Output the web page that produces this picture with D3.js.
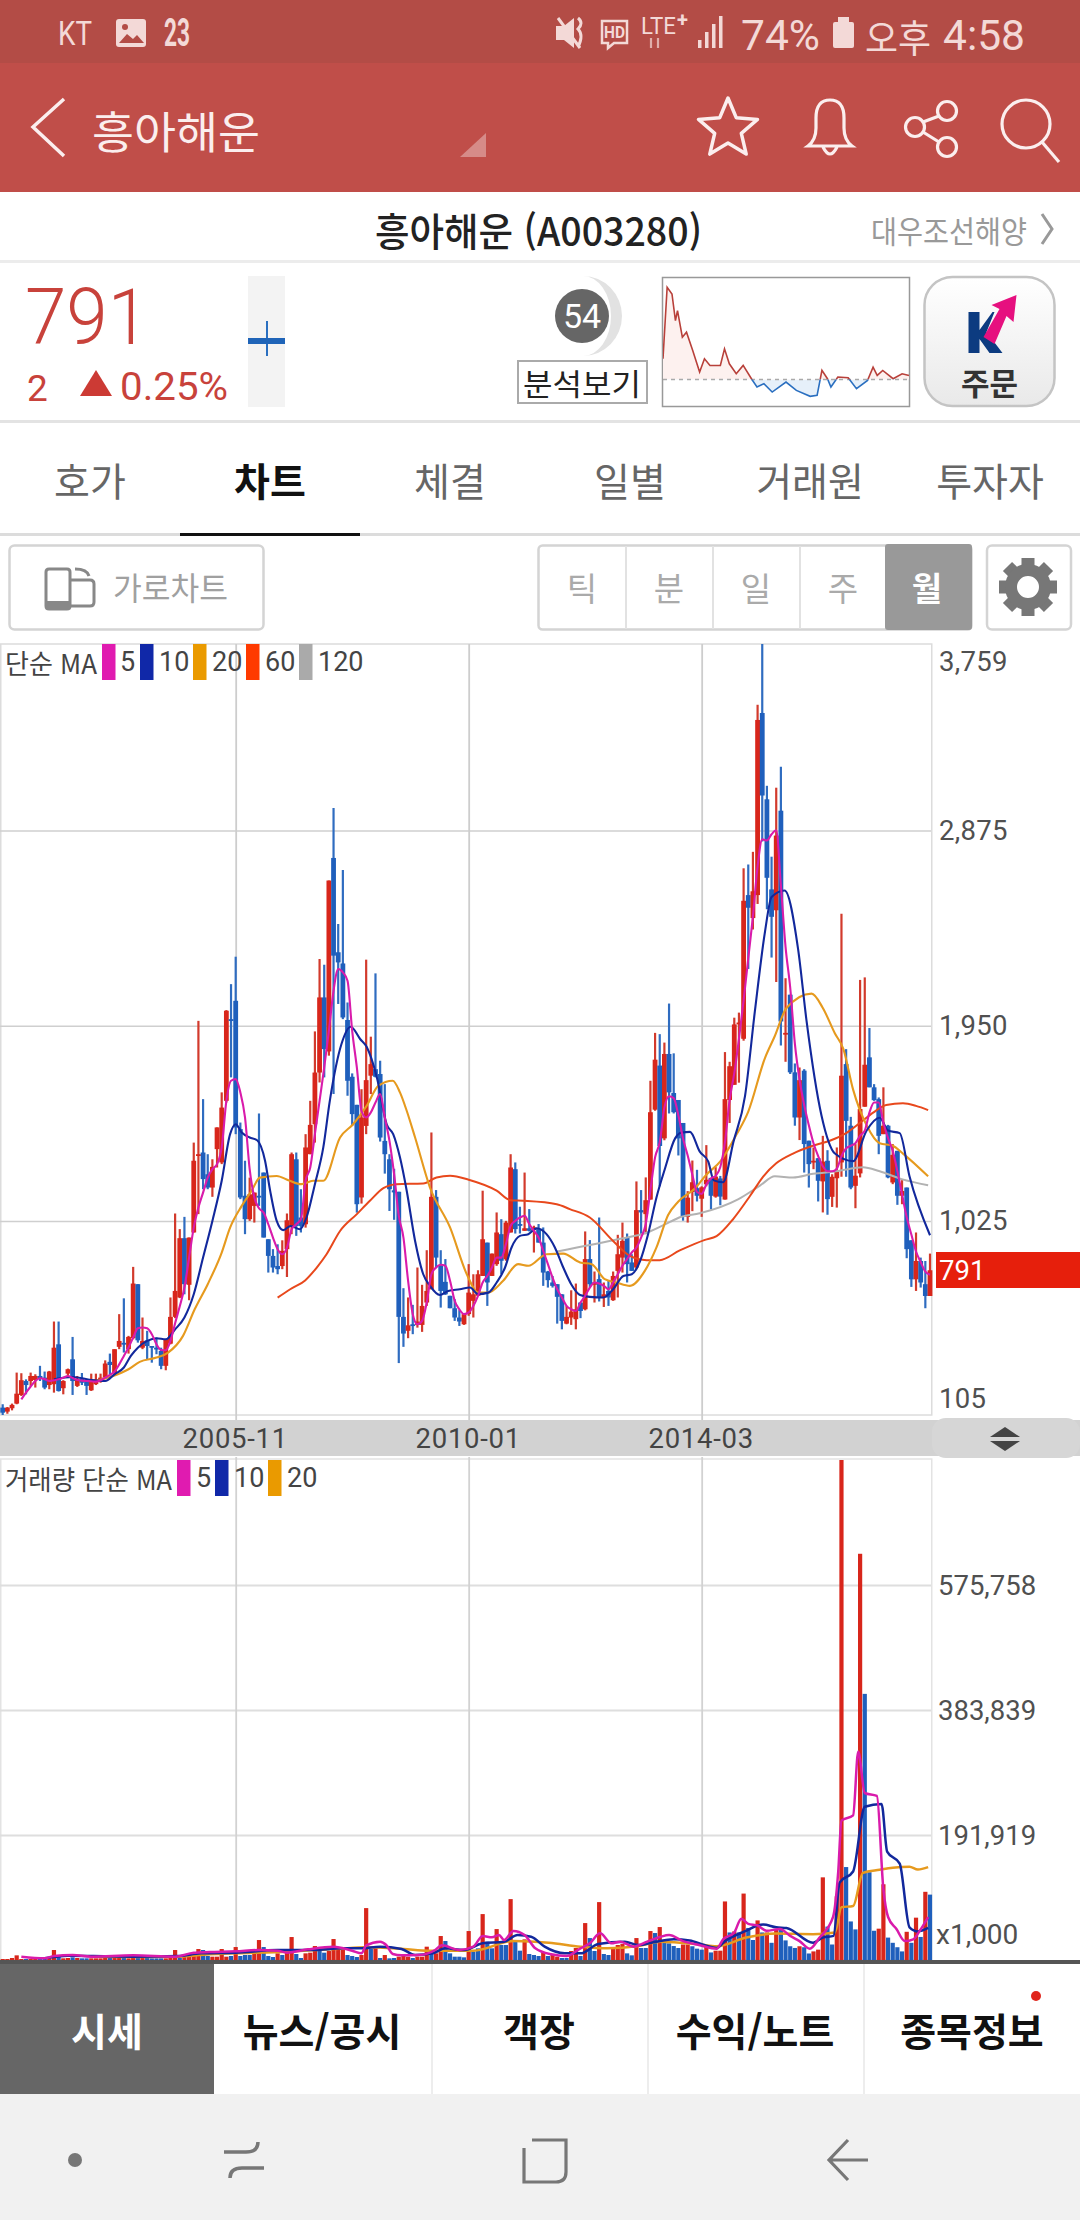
<!DOCTYPE html>
<html lang="ko"><head><meta charset="utf-8">
<style>html,body{margin:0;padding:0;background:#fff}svg{display:block}
.axis path.domain{display:none}</style>
<script src="https://cdn.jsdelivr.net/npm/d3@7/dist/d3.min.js"></script>
</head><body><div id="c"></div>
<script>
// ---------- price candles (monthly) ----------
const open=[140,121,137,159,200,266,266,271,290,282,
247,251,440,232,301,369,243,279,270,222,
251,266,282,357,301,428,447,417,469,725,
424,459,432,424,409,338,443,570,662,943,
722,970,1336,1349,1246,1183,1365,1302,1594,1981,
2068,1460,1144,1033,1096,1144,1254,938,859,811,
811,891,1001,1317,1041,1009,1341,1483,1728,2084,
1828,2745,2298,2245,1977,1708,1575,1136,1475,1713,
1744,1721,1404,1317,1170,1163,570,504,535,532,
532,638,701,1139,812,736,670,611,567,535,
583,646,670,764,922,764,820,962,843,970,
1270,1010,978,990,981,986,922,785,733,725,
677,538,567,559,638,606,844,722,749,662,
693,649,788,851,946,828,804,1076,1057,1126,
1552,1761,1416,1816,1631,1598,1489,1044,1162,1180,
1130,1198,1229,1140,1226,1126,1598,1670,1957,1888,
2569,2460,2569,3432,3023,2596,2497,2969,1912,2097,
1729,1515,1737,1405,1305,1322,1212,1310,1139,1227,
1302,1768,1476,1191,1250,1566,1800,1658,1602,1436,
1476,1207,1357,1144,1183,933,748,835,725,669];
const close=[116,140,153,206,270,247,290,290,279,235,
311,424,219,266,322,266,274,258,243,274,
274,282,349,342,417,456,440,475,728,459,
456,432,428,417,338,464,570,693,943,725,
946,1310,1341,1223,1183,1281,1468,1562,2021,1977,
1468,1136,1033,1151,1159,1136,946,859,804,796,
883,1028,1341,1001,1001,1373,1480,1728,2084,1839,
2638,2282,2250,1989,1689,1531,1104,1515,1692,1768,
1708,1420,1341,1175,1160,570,491,530,527,548,
622,693,1139,851,693,677,611,567,548,583,
685,677,772,938,733,870,970,836,1017,1278,
986,1002,990,978,994,922,780,744,717,665,
551,570,595,606,598,844,725,733,662,677,
662,764,867,930,820,788,1076,1065,1123,1540,
1789,1380,1816,1634,1540,1416,1044,1135,1208,1144,
1184,1220,1144,1235,1140,1602,1758,1956,1965,2542,
2509,2587,3399,3041,2651,2466,2851,1970,1916,1729,
1515,1692,1389,1294,1310,1215,1306,1128,1234,1262,
1713,1499,1183,1239,1555,1765,1658,1597,1428,1476,
1231,1338,1144,1167,891,748,835,733,669,791];
const high=[156,143,159,306,303,274,306,298,338,311,
314,548,548,270,325,475,290,304,274,301,
301,301,364,396,417,583,658,480,807,725,
567,504,432,472,424,464,662,1060,986,1044,
946,1396,1973,1602,1341,1317,1468,1634,2024,2147,
2277,1491,1310,1230,1159,1534,1254,938,891,914,
933,1060,1349,1349,1175,1436,1594,1923,2266,2239,
2638,2982,2432,2688,2060,1724,1575,1649,2263,1898,
2198,1784,1673,1341,1272,1163,706,662,627,804,
722,886,1444,1171,886,844,670,654,602,583,
820,772,791,1168,922,870,1065,1033,1025,1341,
1302,1092,1254,1081,1002,1010,994,788,764,725,
677,622,696,728,638,975,934,785,1041,733,
741,785,959,1017,965,867,1212,1171,1231,1689,
1916,1910,1870,2055,1819,1598,1489,1166,1311,1267,
1189,1384,1229,1280,1238,1825,1779,1988,2012,2696,
2714,2774,3471,3759,3087,2751,3078,3177,2175,2097,
1771,1752,1744,1405,1373,1322,1428,1360,1246,1373,
2481,1839,1518,1389,2167,2179,1939,1673,1610,1658,
1480,1389,1357,1218,1183,933,970,851,835,870];
const low=[105,111,127,156,195,203,243,235,266,227,
227,211,216,203,282,200,238,247,200,219,
247,258,279,298,298,417,401,396,464,448,
417,369,353,393,322,317,440,564,659,677,
649,970,1057,1175,1175,1139,1278,1294,1586,1705,
1436,1128,962,1025,1017,1096,946,780,780,772,
796,759,962,954,970,993,1341,1396,1681,1705,
1808,1626,2053,1981,1618,1475,1064,1107,1436,1626,
1705,1401,1249,1072,1030,351,428,469,488,519,
499,622,701,801,614,674,611,551,527,532,
575,567,670,764,622,764,812,772,836,970,
965,965,978,975,875,922,717,709,709,538,
511,535,532,511,564,601,709,638,643,617,
622,646,662,780,733,788,796,962,962,1126,
1547,1189,1407,1534,1534,1335,1026,1017,1071,1117,
1044,1189,1080,1135,1099,1126,1489,1670,1680,1879,
2219,2406,2527,2823,2502,2273,2157,1856,1779,1721,
1476,1408,1254,1183,1270,1117,1065,1054,1091,1088,
1234,1234,1175,1085,1231,1566,1658,1594,1341,1436,
1227,1199,1101,1104,848,712,693,709,611,669];

// ---------- price moving averages (month index, value) ----------
const ma5Start=4;
const ma5=[179,211,240,266,279,275,
266,270,274,282,290,280,271,268,266,265,
263,270,282,295,311,345,385,425,472,516,
520,516,488,440,413,412,456,540,620,709,
851,993,1088,1159,1230,1270,1294,1373,1594,1689,
1697,1634,1515,1270,1136,1085,1064,1009,946,891,
867,898,985,1009,1033,1215,1278,1436,1594,1752,
1926,2116,2219,2203,2163,1926,1752,1547,1515,1539,
1586,1626,1515,1404,1246,1050,946,741,583,535,
551,638,772,804,817,812,741,646,606,583,
591,622,670,733,764,804,851,851,915,1002,
1025,1041,1049,1010,978,946,883,820,756,701,
662,622,606,598,638,670,709,733,728,717,
701,733,772,812,844,875,899,946,1010,1170,
1326,1398,1562,1616,1607,1525,1416,1335,1244,1162,
1153,1198,1226,1238,1280,1398,1598,1725,1888,2070,
2270,2469,2705,2833,2828,2857,2876,2615,2324,2131,
1865,1695,1574,1478,1393,1332,1284,1260,1260,1272,
1332,1369,1381,1393,1429,1453,1538,1586,1586,1490,
1417,1357,1260,1151,1042,960,880,830,785,770];
const ma10Idx=[11,15,19,22,24,26,27.5,29,31,33,35,37,39,41,43,45,47,48.8,50,51.3,53,54.6,56.3,57.4,58.8,60.2,61.8,63.8,65.2,67,68.8,70.2,72.7,74.7,76.7,78.1,80.3,82.4,83.8,85.25,86.7,88.5,90.25,91.7,93.8,95.6,98.1,100.3,102,104.2,106,107.8,109.2,111,112.8,114.6,116.7,118.5,120.3,122,123.9,126,128.9,131,133.2,135,136.8,138.5,140.3,142.1,144.3,145.7,147.5,149.6,151.4,152.6,154.6,156.8,159.3,161.4,163.6,165,167.8,170.7,172.5,175.7,178.6,182.5,185.4,188.2,190,192.5,194.6,199];
const ma10=[274,285,271,266,298,330,385,424,456,469,464,511,567,677,851,1025,1215,1436,1483,1444,1420,1407,1310,1167,1025,981,1001,985,1041,1199,1373,1594,1863,1945,1887,1850,1705,1483,1436,1326,1168,930,772,717,674,693,701,709,678,685,733,804,899,954,962,990,962,899,804,725,674,665,662,701,764,772,836,962,1136,1271,1416,1444,1447,1353,1307,1217,1208,1398,1616,2015,2397,2560,2591,2312,1974,1526,1344,1308,1453,1514,1453,1441,1236,957];
const ma20Idx=[20,23.7,27,29.4,33,35.5,38.7,41.2,44,47,48.8,51.3,53.4,55.2,58.8,61.3,64.1,66.6,68.8,72.4,75.2,78.1,80.6,83.7,85.25,86.7,88.5,91.7,96,99.6,102,104.2,107.4,110.6,112.8,116.7,120.3,123.9,126.4,129.2,131.7,134.6,137.8,140.3,142.8,145,148.6,151,154,157.5,160,163.6,165.7,168.2,173.6,176,178.6,180.4,182.5,185.4,188.2,191,193.2,198.6];
const ma20=[266,290,322,357,377,401,480,606,725,875,993,1096,1167,1230,1238,1218,1199,1215,1215,1420,1483,1570,1665,1689,1634,1547,1420,1183,994,772,685,685,741,820,812,867,870,828,820,749,733,717,788,899,1053,1117,1180,1244,1307,1435,1543,1798,1901,2034,2102,2034,1913,1840,1647,1478,1393,1381,1344,1236];
const ma60Idx=[59,61.7,64.9,67.4,69.5,72.4,76,78.8,81.7,84.5,90.25,93.1,96,100,106,108.9,111.7,118.9,121.7,126,131,134.6,138.2,141,145.3,150.7,153.2,156.8,160.4,163.2,166,169.6,173.9,177.5,181,184,186.8,189.6,193.2,196,198.6];
const ma60=[661,701,743,804,867,977,1057,1120,1180,1199,1202,1231,1239,1220,1168,1123,1120,1104,1081,1041,930,859,839,839,885,935,953,1035,1144,1235,1298,1344,1381,1405,1441,1490,1538,1574,1582,1570,1550];
const ma120Idx=[119,132.5,138.2,143.2,145.3,149.6,157.8,162.5,165.7,169.6,173.9,178.9,184.6,188.2,192.9,198.6];
const ma120=[880,940,969,1020,1042,1061,1127,1192,1236,1231,1248,1260,1279,1260,1223,1194];

// ---------- volume (x1,000 shares) ----------
const volume=[1530,1530,3070,7150,1530,1530,1530,2040,2040,2555,
2555,15330,5110,2555,3070,4090,3070,2555,2555,2555,
2555,2555,3070,3070,3070,6640,3070,2555,6130,4090,
3070,3070,2555,2555,2555,2555,3070,15330,3070,4600,
6130,6130,16860,15330,6130,5110,5110,16860,5110,6130,
19900,6130,7670,7670,9200,30660,19900,6130,4600,10200,
7670,15330,35260,9200,3070,10200,11240,21460,15330,11240,
13800,32200,15330,15330,7670,6130,4600,7670,79700,16860,
17900,3070,7670,2555,3070,5110,7670,5110,3070,5110,
5110,20440,12800,10200,36800,29130,10200,5110,5110,4090,
44460,12800,17900,70500,28100,17900,47500,23000,23000,93500,
28100,14300,31700,9200,7670,6130,12260,6130,7670,5110,
3070,3070,13800,18400,6130,56700,33700,13800,88900,9200,
7670,17900,23000,24500,10200,7150,33700,18400,18400,44460,
41400,50600,29130,25550,21460,18400,23800,23800,21100,17400,
15900,21100,11600,14300,14300,89900,42300,43900,42300,102000,
49200,30700,60800,42300,42300,26400,47600,47600,30100,21100,
18500,21100,19600,10000,13200,15900,126900,51300,23800,97800,
767676,142700,59200,47000,623700,408600,134800,44900,48100,116300,
34400,26400,19600,13200,43300,26400,65000,35400,104700,100400];
const volUp=[1,1,1,1,1,0,1,1,0,0, 1,1,0,1,1,0,1,0,0,1, 1,1,1,0,1,1,0,1,1,0, 1,0,0,0,0,1,1,1,0,1,
1,1,1,0,0,1,1,1,1,0, 1,0,0,0,1,1,0,0,0,1, 0,1,1,0,0,1,1,1,0,0, 1,1,1,1,0,0,0,1,1,0,
1,0,1,0,0,1,1,1,0,1, 1,1,0,1,1,0,0,0,0,0, 1,0,0,1,0,0,1,0,0,1, 0,0,1,0,0,0,1,0,1,1,
0,0,1,1,0,1,0,0,1,0, 0,1,1,1,0,0,1,0,0,1, 0,1,0,0,0,0,1,1,0,0, 0,1,0,1,1,1,0,1,0,1,
0,0,1,0,1,0,1,0,0,0, 0,1,0,0,1,1,1,0,0,1, 1,0,0,0,1,0,0,0,1,1, 0,0,0,0,1,0,1,0,1,0];
const vma5Idx=[4,9,11,15,19,28,37,41,44.4,50,55,59,61,65.5,71,75,77,78,81,82.3,83.7,85.6,89.4,92.8,94.2,98,101,103,105,106.5,107.6,109.6,112,114.3,117.7,121,124,126,128.2,130.6,132.5,135.4,138.3,141.2,143,146,149.6,153.2,154.6,157,158.5,160,162,163.9,166.8,169,171,173.2,175.3,178.2,179.3,180,182.5,183.6,185,187.6,189,190,191.8,193.6,195.4,196.8,198.6];
const vma5=[5110,2555,6130,7670,5110,7150,5110,11240,12260,13300,15330,14300,11240,16350,20440,14300,10220,22480,28100,23000,9200,7150,7660,15330,22480,15330,20440,36800,34750,38300,30660,44460,38300,17900,8690,6130,17900,25550,40880,25550,28100,20440,28100,35770,38300,29000,22700,17400,31700,42300,63400,55500,52900,44900,47600,37000,29000,17400,34400,66100,134800,214000,222000,320000,256400,252000,108400,66000,47600,29000,31700,44900,66000];
const vma10Idx=[9,14,19.5,28,37.7,42.5,50,59,66.5,73,77,81,85.6,88.5,92.3,95,99,103,107.6,110.5,113.4,116.3,120.6,124,127.8,133.5,136.4,140.2,144,147.4,150.7,153.2,155,159.2,163.2,166,168.2,173.9,176,178.3,179.6,182.5,185,188.6,189.8,192.5,194.6,196.4,198.6];
const vma10=[2555,6640,6130,5110,6130,10220,11240,15330,15330,17900,17900,20440,16860,7660,10220,17900,15330,25550,28100,38300,35770,20440,10220,10220,24500,28100,23000,28100,31700,30100,22700,18500,29000,43900,54400,50200,49200,26400,34400,37000,118900,135900,235200,239500,166500,148000,50200,43900,49200];
const vma20Idx=[19,28,37,44.4,50,61,72.2,78,86,91.4,101,109.6,117.2,124,129.7,136.4,141.2,149.6,153.2,159.6,166,173.9,178.6,180,182.5,184.6,188.2,191,194.6,196.4,198.6];
const vma20=[5110,4600,5110,8690,10220,12800,17400,19400,16860,14300,14300,29100,26600,20440,17900,21460,28100,23800,21100,34400,40700,39600,42300,80900,83000,133700,138500,141700,143300,139000,142700];

// ---------- axis labels ----------
const priceTicks=[105,1025,1950,2875,3759];
const volumeTicks=[191919,383839,575758];
const dateTicks=[50,100,150];
const dateLabels=["2005-11","2010-01","2014-03"];

// ---------- mini chart ----------
const sparkIdx=[0,6,13,18,21,28,34,43,53,60,68,83,89,96,106,116,128,136,146,158,178,193,213,223,230,238,243,253,268,280,296,304,310,318,333,346,356];
const sparkVal=[62,277,257,177,207,127,142,87,22,62,42,42,92,47,17,42,2,-23,-13,-38,-8,-33,-51,-48,27,2,-23,7,5,-28,-3,37,12,27,2,17,12];

const RED="#d8261b",BLUE="#1f5fbc",C5="#d91bab",C10="#12289c",C20="#e69a1e",C60="#e8481c",C120="#b2b2b2";
const KR='"Noto Sans CJK KR","Noto Sans",sans-serif', RB='Roboto,"Noto Sans",sans-serif';

const svg=d3.select("#c").append("svg").attr("width",1080).attr("height",2220).attr("viewBox","0 0 1080 2220");
function txt(g,x,y,s,o={}){const t=g.append("text").attr("x",x).attr("y",y).attr("dominant-baseline","central")
 .attr("font-family",o.font||KR).attr("font-size",o.size||28).attr("fill",o.fill||"#333").attr("font-weight",o.weight||400)
 .attr("text-anchor",o.anchor||"start").text(s);
 if(o.w)t.attr("textLength",o.w).attr("lengthAdjust","spacingAndGlyphs");return t;}
function rect(g,x,y,w,h,f,o={}){const r=g.append("rect").attr("x",x).attr("y",y).attr("width",w).attr("height",h).attr("fill",f);
 if(o.stroke)r.attr("stroke",o.stroke).attr("stroke-width",o.sw||1.5);if(o.rx)r.attr("rx",o.rx);return r;}

// ---------- app chrome ----------
const ui=svg.append("g");
rect(ui,0,0,1080,63,"#b34c46");rect(ui,0,63,1080,129,"#c04e49");
const sf="#f3d9d7";
txt(ui,58,33,"KT",{font:RB,size:34,fill:sf,w:34});
rect(ui,116,19,30,28,sf,{rx:3});ui.append("path").attr("d","M119 43l8-9 6 5 4-4 7 8z").attr("fill","#b34c46");ui.append("circle").attr("cx",125).attr("cy",27).attr("r",3).attr("fill","#b34c46");
txt(ui,164,33,"23",{font:RB,size:38,fill:sf,weight:700,w:26});
ui.append("path").attr("d","M556 26h8l10-8v30l-10-8h-8z").attr("fill",sf);
ui.append("path").attr("d","M578 18q6 5 0 11q6 6 0 18M558 18l22 30").attr("fill","none").attr("stroke",sf).attr("stroke-width",3);
ui.append("path").attr("d","M602 21h25v22h-13l-6 5v-5h-6z").attr("fill","none").attr("stroke",sf).attr("stroke-width",2.5);
txt(ui,604,32,"HD",{font:RB,size:17,fill:sf,weight:700,w:21});
txt(ui,641,26,"LTE",{font:RB,size:24,fill:sf,w:35});txt(ui,677,20,"+",{font:RB,size:20,fill:sf,weight:700});
ui.append("path").attr("d","M651 38v10M658 38v10").attr("stroke",sf).attr("stroke-width",2.2).attr("opacity",.7);
[0,1,2,3].forEach(i=>rect(ui,698+i*7,40-i*8,3.5,8+i*8,sf,{}));
txt(ui,741,35,"74%",{font:RB,size:42,fill:sf,w:79});
rect(ui,833,22,21,26,sf,{rx:2});rect(ui,838,17,11,5,sf);
txt(ui,865,35,"오후",{size:38,fill:sf,w:66});
txt(ui,943,35,"4:58",{font:RB,size:42,fill:sf,w:82});
const wh="#fbeeee";
ui.append("path").attr("d","M64 99L33 127L64 156").attr("fill","none").attr("stroke",wh).attr("stroke-width",3.5);
txt(ui,92,130,"흥아해운",{size:44,fill:wh,w:168});
ui.append("path").attr("d","M460 157H486V133z").attr("fill","#fff").attr("opacity",.35);
const star=d3.range(10).map(i=>{const r=i%2?14:31,a=i*Math.PI/5;return [728+r*Math.sin(a),129-r*Math.cos(a)];});
ui.append("path").attr("d",d3.line().curve(d3.curveLinearClosed)(star)).attr("fill","none").attr("stroke",wh).attr("stroke-width",3.5).attr("stroke-linejoin","round");
ui.append("path").attr("d","M808 146q8-6 8-18v-10q0-18 14-18t14 18v10q0 12 8 18zM823 147q7 14 14 0").attr("fill","none").attr("stroke",wh).attr("stroke-width",3.2);
[[947,111],[915,127],[947,147]].forEach(c=>ui.append("circle").attr("cx",c[0]).attr("cy",c[1]).attr("r",9.5).attr("fill","none").attr("stroke",wh).attr("stroke-width",3.2));
ui.append("path").attr("d","M923 122L939 116M923 132L939 142").attr("stroke",wh).attr("stroke-width",3.2);
ui.append("circle").attr("cx",1026).attr("cy",124).attr("r",24).attr("fill","none").attr("stroke",wh).attr("stroke-width",3.2);
ui.append("path").attr("d","M1042 142L1059 162").attr("stroke",wh).attr("stroke-width",3.2);

txt(ui,375,229,"흥아해운 (A003280)",{size:39,fill:"#222",weight:500,w:327});
txt(ui,871,229,"대우조선해양",{size:31,fill:"#999",w:156});
ui.append("path").attr("d","M1042 214L1052 229L1042 244").attr("fill","none").attr("stroke","#999").attr("stroke-width",3);
rect(ui,0,260,1080,3,"#ececec");
txt(ui,25,318,"791",{font:RB,size:77,fill:"#c8423b",weight:300,w:124});
txt(ui,27,388,"2",{font:RB,size:37,fill:"#c8423b"});
ui.append("path").attr("d","M80 396L96 370L112 396z").attr("fill","#cc3a34");
txt(ui,120,387,"0.25%",{font:RB,size:38,fill:"#c8423b",w:108});
rect(ui,248,276,37,131,"#f3f3f3");
rect(ui,266,321,2,35,"#2a6fc0");rect(ui,248,338,37,6,"#1f64b8");
// gauge
ui.append("path").attr("d","M583 276A39 40 0 0 1 583 356A28 40 0 0 0 583 276z").attr("fill","#e2e2e2");
ui.append("circle").attr("cx",582).attr("cy",316).attr("r",27).attr("fill","#666");
txt(ui,582,316,"54",{font:RB,size:34,fill:"#fff",anchor:"middle"});
rect(ui,518,361,129,42,"#fff",{stroke:"#aaa",sw:2});
txt(ui,523,382,"분석보기",{size:30,fill:"#222",w:118});
// mini chart
rect(ui,662.5,277.5,247,129,"#fff",{stroke:"#999",sw:1.5});
const sx=d3.scaleLinear().domain([0,356]).range([663,909]),sy=d3.scaleLinear().domain([-80,308]).range([406,277]);
const sd=sparkIdx.map((d,i)=>[d,sparkVal[i]]);
const defs=svg.append("defs");
defs.append("clipPath").attr("id","sa").append("rect").attr("x",663).attr("y",277).attr("width",247).attr("height",sy(0)-277);
defs.append("clipPath").attr("id","sb").append("rect").attr("x",663).attr("y",sy(0)).attr("width",247).attr("height",406-sy(0));
const sarea=d3.area().x(d=>sx(d[0])).y0(sy(0)).y1(d=>sy(d[1])),sline=d3.line().x(d=>sx(d[0])).y(d=>sy(d[1]));
ui.append("path").attr("d",sarea(sd)).attr("fill","#fdf1ef").attr("clip-path","url(#sa)");
ui.append("path").attr("d",sarea(sd)).attr("fill","#e6f0fa").attr("clip-path","url(#sb)");
ui.append("line").attr("x1",663).attr("x2",909).attr("y1",sy(0)).attr("y2",sy(0)).attr("stroke","#aaa").attr("stroke-width",1.5).attr("stroke-dasharray","4 4");
ui.append("path").attr("d",sline(sd)).attr("fill","none").attr("stroke","#b8403a").attr("stroke-width",1.6).attr("clip-path","url(#sa)");
ui.append("path").attr("d",sline(sd)).attr("fill","none").attr("stroke","#2a6fc0").attr("stroke-width",1.6).attr("clip-path","url(#sb)");
// order button
const lg=defs.append("linearGradient").attr("id","btn").attr("x1",0).attr("x2",0).attr("y1",0).attr("y2",1);
lg.append("stop").attr("offset",0).attr("stop-color","#ffffff");lg.append("stop").attr("offset",1).attr("stop-color","#e9e9e9");
const bo=ui.append("g").attr("transform","translate(1.5,0)");
rect(bo,923,277,130,129,"url(#btn)",{stroke:"#c4c4c4",sw:2.5,rx:28});
bo.append("path").attr("d","M967 312h11v18l13-18h2l-8 20 16 21h-13l-10-14v14h-11z").attr("fill","#0c3b80");
bo.append("path").attr("d","M982 337L998 309L990 305L1015 295L1012 322L1005 316L993 344z").attr("fill","#e6107f");
txt(bo,988,381,"주문",{size:31,fill:"#333",weight:700,anchor:"middle"});
rect(ui,0,420,1080,3,"#e3e3e3");

// tabs
const tabNames=["호가","차트","체결","일별","거래원","투자자"];
tabNames.forEach((t,i)=>txt(ui,90+i*180,479,t,{size:39,anchor:"middle",fill:i==1?"#111":"#666",weight:i==1?700:400}));
rect(ui,0,533,1080,3,"#dcdcdc");rect(ui,180,533,180,3,"#111");
rect(ui,9.5,545.5,254,84,"#fff",{stroke:"#d4d4d4",sw:2.5,rx:5});
ui.append("path").attr("d","M49 569h18q3 0 3 3v34q0 3-3 3H49q-3 0-3-3V572q0-3 3-3zM70 580h20q4 0 4 4v18q0 4-4 4H70M75 569q12 0 14 7").attr("fill","none").attr("stroke","#888").attr("stroke-width",3);
rect(ui,46,601,24,8,"#888");
txt(ui,113,586,"가로차트",{size:32,fill:"#a0a0a0",w:115});
const segs=["틱","분","일","주","월"];
rect(ui,538.5,545.5,433,84,"#fff",{stroke:"#d4d4d4",sw:2.5,rx:4});
segs.forEach((s,i)=>{const x=538+i*87;if(i>0&&i<4)rect(ui,x,546,2,83,"#e2e2e2");
 if(i==4)rect(ui,885,544,87,86,"#999",{rx:3});
 txt(ui,x+(i==4?41:44),587,s,{size:33,anchor:"middle",fill:i==4?"#fff":"#aaa",weight:i==4?700:400});});
rect(ui,987,545.5,84,84,"#fff",{stroke:"#d4d4d4",sw:2.5,rx:5});
const gear=ui.append("g").attr("transform","translate(1028,587)");
d3.range(8).forEach(i=>gear.append("rect").attr("x",-6.5).attr("y",-29).attr("width",13).attr("height",12).attr("fill","#777").attr("transform","rotate("+i*45+")"));
gear.append("circle").attr("r",17).attr("fill","none").attr("stroke","#777").attr("stroke-width",12);

// ---------- scales ----------
const PL=0,PR=931,PT=644,PB=1415,VT=1460,VB=1960;
const x=d3.scaleLinear().domain([0,199]).range([2.7,930]);
const yP=d3.scaleLinear().domain([105,3759]).range([PB,PT]);
const yV=d3.scaleLinear().domain([0,767676]).range([VB,VT]);
const idx=d3.range(open.length);

// ---------- frames + grids through axes ----------
const chart=svg.append("g");
rect(chart,.75,PT,PR,PB-PT,"none",{stroke:"#dcdcdc",sw:1.5});
rect(chart,.75,VT-1,PR,VB-VT+1,"none",{stroke:"#e3e3e3",sw:1.5});
const gy=chart.append("g").attr("class","axis").attr("transform","translate(0,0)")
 .call(d3.axisRight(yP).tickValues(priceTicks.slice(1,4)).tickSize(PR).tickFormat(""));
gy.selectAll("line").attr("stroke","#cfcfcf").attr("stroke-width",1.5);
const gv=chart.append("g").attr("class","axis")
 .call(d3.axisRight(yV).tickValues(volumeTicks).tickSize(PR).tickFormat(""));
gv.selectAll("line").attr("stroke","#dedede").attr("stroke-width",2);
const gx=chart.append("g").attr("class","axis").attr("transform","translate(0,"+PT+")")
 .call(d3.axisBottom(x).tickValues(dateTicks).tickSize(PB-PT+5).tickFormat(""));
gx.selectAll("line").attr("stroke","#cdcdcd").attr("stroke-width",1.8);
const gx2=chart.append("g").attr("class","axis").attr("transform","translate(0,"+(VT-3)+")")
 .call(d3.axisBottom(x).tickValues(dateTicks).tickSize(VB-VT+3).tickFormat(""));
gx2.selectAll("line").attr("stroke","#d2d2d2").attr("stroke-width",1.8);

// ---------- candles ----------
const up=i=>close[i]>=open[i];
const cg=chart.append("g");
cg.selectAll("line.w").data(idx).join("line").attr("class","w")
 .attr("x1",x).attr("x2",x).attr("y1",i=>yP(high[i])).attr("y2",i=>yP(low[i]))
 .attr("stroke",i=>up(i)?"#d23a2c":"#2f6cc0").attr("stroke-width",2.2);
cg.selectAll("rect.b").data(idx).join("rect").attr("class","b")
 .attr("x",i=>x(i)-2.4).attr("width",4.8)
 .attr("y",i=>yP(Math.max(open[i],close[i])))
 .attr("height",i=>Math.max(1.8,Math.abs(yP(open[i])-yP(close[i]))))
 .attr("fill",i=>up(i)?RED:BLUE);

// ---------- MA lines ----------
const lp=d3.line().x(d=>x(d[0])).y(d=>yP(d[1])).curve(d3.curveMonotoneX);
const lv=d3.line().x(d=>x(d[0])).y(d=>yV(d[1])).curve(d3.curveMonotoneX);
const zip=(a,b)=>a.map((d,i)=>[d,b[i]]);
const ml=chart.append("g").attr("fill","none").attr("stroke-linejoin","round");
ml.append("path").attr("d",lp(zip(ma120Idx,ma120))).attr("stroke",C120).attr("stroke-width",2);
ml.append("path").attr("d",lp(zip(ma60Idx,ma60))).attr("stroke",C60).attr("stroke-width",2);
ml.append("path").attr("d",lp(zip(ma20Idx,ma20))).attr("stroke",C20).attr("stroke-width",2.1);
ml.append("path").attr("d",lp(zip(ma10Idx,ma10))).attr("stroke",C10).attr("stroke-width",2.1);
ml.append("path").attr("d",lp(ma5.map((v,i)=>[i+ma5Start,v]))).attr("stroke",C5).attr("stroke-width",2.1);

// ---------- volume ----------
const vg=chart.append("g");
vg.selectAll("rect").data(idx).join("rect")
 .attr("x",i=>x(i)-2.1).attr("width",4.2)
 .attr("y",i=>yV(volume[i])).attr("height",i=>VB-yV(volume[i]))
 .attr("fill",i=>volUp[i]?RED:BLUE);
const vl=chart.append("g").attr("fill","none").attr("stroke-linejoin","round");
vl.append("path").attr("d",lv(zip(vma20Idx,vma20))).attr("stroke",C20).attr("stroke-width",2.5);
vl.append("path").attr("d",lv(zip(vma10Idx,vma10))).attr("stroke",C10).attr("stroke-width",2.5);
vl.append("path").attr("d",lv(zip(vma5Idx,vma5))).attr("stroke",C5).attr("stroke-width",2.5);

// ---------- axis text ----------
const ap=chart.append("g").attr("class","axis").attr("transform","translate(939,0)")
 .call(d3.axisRight(yP).tickValues(priceTicks).tickSize(0).tickPadding(0).tickFormat(d3.format(",")));
ap.selectAll("text").attr("font-family",RB).attr("font-size",27.5).attr("fill","#505050").attr("letter-spacing",.3)
 .attr("dy",d=>d==3759?"0.95em":d==105?"-0.28em":"0.32em");
const av=chart.append("g").attr("class","axis").attr("transform","translate(938,0)")
 .call(d3.axisRight(yV).tickValues(volumeTicks).tickSize(0).tickPadding(0).tickFormat(d3.format(",")));
av.selectAll("text").attr("font-family",RB).attr("font-size",27.5).attr("fill","#505050").attr("dy","0.34em");
txt(chart,936,1934,"x1,000",{font:RB,size:28,fill:"#505050"});
rect(chart,936,1252,144,36,"#e61f0c");
txt(chart,939,1270,"791",{font:RB,size:27.5,fill:"#fff"});

// date band
rect(chart,0,1420,1080,36,"#d2d2d2");
rect(chart,932,1418,148,40,"#d6d6d6",{rx:14});
chart.append("path").attr("d","M990 1437L1005 1427L1020 1437z").attr("fill","#444");
chart.append("path").attr("d","M990 1441L1005 1451L1020 1441z").attr("fill","#444");
const ad=chart.append("g").attr("class","axis").attr("transform","translate(-1,1420)")
 .call(d3.axisBottom(x).tickValues(dateTicks).tickSize(0).tickPadding(0).tickFormat((d,i)=>dateLabels[i]));
ad.selectAll("text").attr("font-family",RB).attr("font-size",27.5).attr("fill","#444").attr("dy","1.02em").attr("letter-spacing",.7);

// legends
function legend(y,h,title,tw,items){txt(chart,5,y,title,{size:27,fill:"#444",w:tw});
 items.forEach(d=>{rect(chart,d[0],y-h/2,13.5,h,d[1]);txt(chart,d[2],y,d[3],{font:RB,size:27,fill:"#444"});});}
legend(662,36,"단순 MA",92,[[102,"#e01bb0",120,"5"],[140,"#1028a8",159,"10"],[193,"#ea9a00",212,"20"],[246,"#ff3a00",265,"60"],[299,"#aaaaaa",318,"120"]]);
legend(1478,36,"거래량 단순 MA",167,[[177,"#e01bb0",196,"5"],[215,"#1028a8",234,"10"],[268,"#ea9a00",287,"20"]]);

// ---------- bottom bars ----------
const bt=svg.append("g");
rect(bt,0,1960,1080,4,"#555");
rect(bt,0,1964,1080,130,"#fff");
rect(bt,0,1964,214,130,"#666");
[431,647,863].forEach(v=>rect(bt,v,1964,2,130,"#ededed"));
const navNames=["시세","뉴스/공시","객장","수익/노트","종목정보"],navX=[107,322,539,755,972];
navNames.forEach((t,i)=>txt(bt,navX[i],2029,t,{size:39,anchor:"middle",fill:i?"#111":"#fff",weight:700}));
bt.append("circle").attr("cx",1036).attr("cy",1996).attr("r",5).attr("fill","#e0251c");
rect(bt,0,2094,1080,126,"#f1f1f1");
const nv="#777";
bt.append("circle").attr("cx",75).attr("cy",2160).attr("r",7).attr("fill",nv);
bt.append("path").attr("d","M224 2152H246Q258 2152 258 2142M264 2168H242Q230 2168 230 2178").attr("fill","none").attr("stroke",nv).attr("stroke-width",3.5);
bt.append("path").attr("d","M532 2140H566V2172Q566 2182 556 2182H524V2148").attr("fill","none").attr("stroke",nv).attr("stroke-width",3.2);
bt.append("path").attr("d","M868 2160H830M848 2140L829 2160L848 2180").attr("fill","none").attr("stroke",nv).attr("stroke-width",3.2);
</script></body></html>
